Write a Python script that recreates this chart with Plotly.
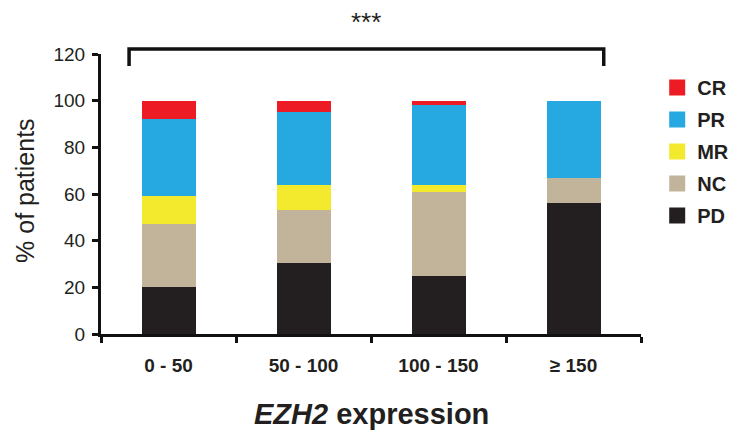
import plotly.graph_objects as go

categories = ["0 - 50", "50 - 100", "100 - 150", "≥ 150"]
PD = [20, 30.5, 25, 56]
NC = [27, 22.5, 36, 11]
MR = [12, 11, 3, 0]
PR = [33, 31, 34, 33]
CR = [8, 5, 2, 0]

series_names = ["PD", "NC", "MR", "PR", "CR"]
series_values = [PD, NC, MR, PR, CR]
colors = ["#231F20", "#C2B49B", "#F3EA2E", "#25A9E0", "#ED1C24"]

y_ticks = [0, 20, 40, 60, 80, 100, 120]

fig = go.Figure()
for name, vals, col in zip(series_names, series_values, colors):
    fig.add_trace(go.Bar(x=categories, y=vals, name=name, marker=dict(color=col, line=dict(width=0)),
                         showlegend=False))
# legend entries (square swatches), top to bottom: CR, PR, MR, NC, PD
for name, col in zip(series_names[::-1], colors[::-1]):
    fig.add_trace(go.Scatter(x=[None], y=[None], mode="markers", name=name, legendgroup=name,
                             marker=dict(symbol="square", size=18, color=col)))

fig.update_layout(
    width=746, height=432,
    barmode="stack", bargap=0.6,
    plot_bgcolor="white", paper_bgcolor="white",
    margin=dict(l=93, r=113, t=46, b=106, autoexpand=False),
    font=dict(family="Liberation Sans, Arial, sans-serif", color="#231F20"),
    legend=dict(traceorder="grouped", x=1.03, y=0.95, xanchor="left", yanchor="top",
                font=dict(size=20, color="#231F20", family="Liberation Sans, Arial, sans-serif", weight="bold"),
                tracegroupgap=3, itemsizing="trace"),
    xaxis=dict(range=[-0.5, 3.5], showline=True, linecolor="#111", linewidth=3, automargin=False,
               ticks="outside", tickson="boundaries", ticklen=6, tickwidth=3, tickcolor="#111",
               ticklabelstandoff=12,
               tickfont=dict(size=19, weight="bold", color="#231F20"),
               showgrid=False, zeroline=False),
    yaxis=dict(range=[0, 120], tickvals=y_ticks, showline=True, linecolor="#111", linewidth=3, automargin=False,
               ticks="outside", ticklen=6, tickwidth=3, tickcolor="#111",
               ticklabelstandoff=3,
               tickfont=dict(size=19, color="#231F20"),
               showgrid=False, zeroline=False),
)

# axis titles
fig.add_annotation(x=0.5, y=-0.286, xref="paper", yref="paper", xanchor="center", yanchor="middle",
                   text="<i>EZH2</i> expression",
                   showarrow=False, font=dict(size=29, weight="bold", color="#231F20"))
fig.add_annotation(x=-0.141, y=0.514, xref="paper", yref="paper", xanchor="center", yanchor="middle",
                   text="% of patients", textangle=-90,
                   showarrow=False, font=dict(size=25, color="#231F20"))

# significance bracket
x0, x1 = 0.052, 0.931
ytop, ybot = 1.018, 0.957
fig.add_shape(type="path", xref="paper", yref="paper",
              path=f"M {x0},{ybot} L {x0},{ytop} L {x1},{ytop} L {x1},{ybot}",
              line=dict(color="#111", width=3.5))
fig.add_annotation(x=(x0 + x1) / 2, y=1.175, xref="paper", yref="paper", xanchor="center", yanchor="top",
                   text="***", showarrow=False, font=dict(size=26, color="#231F20"))

fig.write_html("out.html")
